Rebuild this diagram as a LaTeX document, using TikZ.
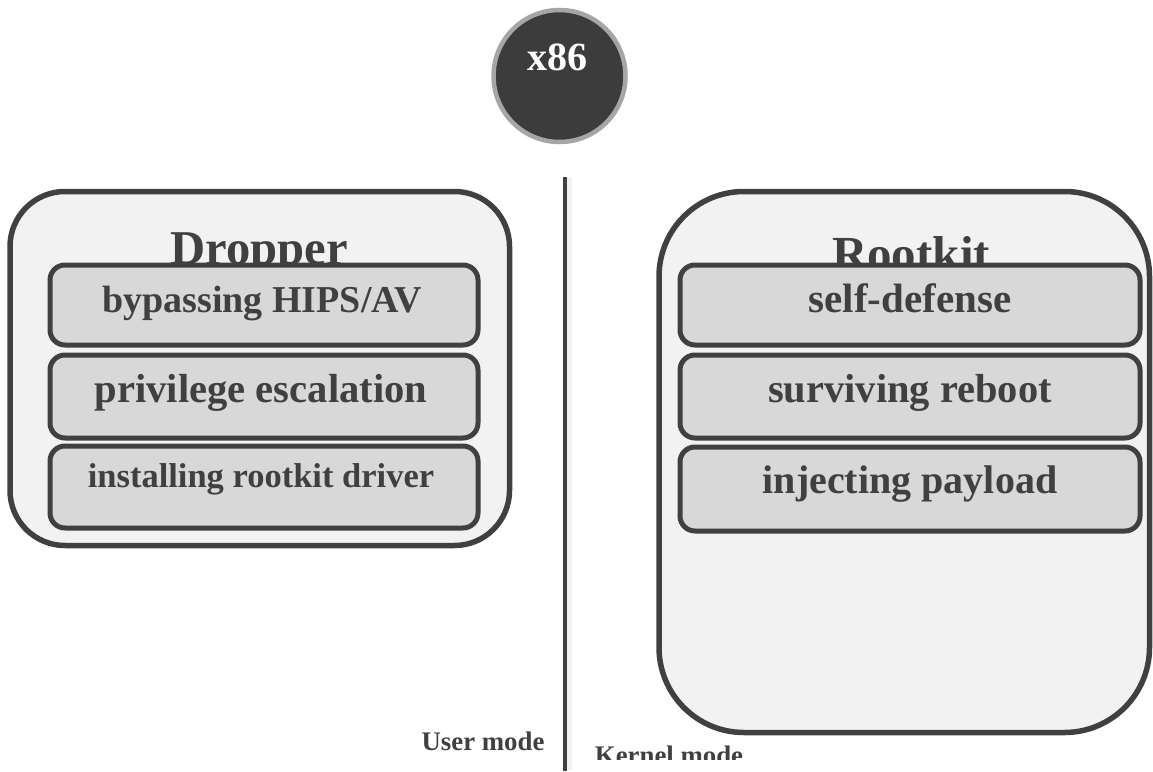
\documentclass[tikz,border=0pt]{standalone}
\usepackage{fontspec}
\setmainfont{Liberation Serif}
\definecolor{ink}{HTML}{404040}
\definecolor{outerfill}{HTML}{F2F2F2}
\definecolor{innerfill}{HTML}{D8D8D8}
\definecolor{ringgray}{HTML}{A6A6A6}
\definecolor{discfill}{HTML}{3C3C3C}
\newcommand{\fsz}[1]{\fontsize{#1}{#1}\selectfont\bfseries}
\tikzset{
  outerbox/.style={draw=ink, line width=5.5pt, fill=outerfill, rounded corners=#1},
  innerbox/.style={draw=ink, line width=5pt, fill=innerfill, rounded corners=15pt},
  lbl/.style={text=ink, inner sep=0pt, anchor=base},
}
\begin{document}
\begin{tikzpicture}[x=1pt,y=-1pt]
\useasboundingbox (0,0) rectangle (1153,771);
% x86 disc
\node[circle, draw=ringgray, line width=4.5pt, fill=discfill, minimum size=132pt, inner sep=0pt] (cpu) at (559.5,76) {};
\node[lbl, text=white] (cputxt) at (557.5,70) {\fsz{40}x86};
% divider
\coordinate (divtop) at (565,177);
\coordinate (divbot) at (565,771);
\draw[black!5, line width=6pt] ([xshift=3.5pt]divtop) -- ([xshift=3.5pt]divbot);
\draw[ink, line width=4.5pt] (divtop) -- (divbot);
% Dropper
\draw[outerbox=55pt] (10,191.5) rectangle (509.5,545.5);
\node[lbl] (droptitle) at (259,264) {\fsz{48.6}Dropper};
\node[innerbox, minimum width=428pt, minimum height=80pt] (d1) at (264,305) {};
\node[innerbox, minimum width=428pt, minimum height=83pt] (d2) at (264,396.5) {};
\node[innerbox, minimum width=428pt, minimum height=82pt] (d3) at (264,487) {};
\node[lbl] (d1t) at (262,312) {\fsz{38}bypassing HIPS/AV};
\node[lbl] (d2t) at (261,402) {\fsz{40.6}privilege escalation};
\node[lbl] (d3t) at (261,487) {\fsz{34.5}installing rootkit driver};
% Rootkit
\draw[outerbox=85pt] (659,191.5) rectangle (1149.5,732.5);
\node[lbl] (roottitle) at (911,270) {\fsz{49}Rootkit};
\node[innerbox, minimum width=460pt, minimum height=80pt] (r1) at (910,305) {};
\node[innerbox, minimum width=460pt, minimum height=83pt] (r2) at (910,396.5) {};
\node[innerbox, minimum width=460pt, minimum height=84pt] (r3) at (910,489) {};
\node[lbl] (r1t) at (910,312) {\fsz{41}self-defense};
\node[lbl] (r2t) at (910,402) {\fsz{40.5}surviving reboot};
\node[lbl] (r3t) at (910,493) {\fsz{40}injecting payload};
% mode labels
\node[lbl] (user) at (483,750) {\fsz{26.8}User mode};
\begin{scope}
\clip (570,700) rectangle (800,759);
\node[lbl] (kernel) at (669,764) {\fsz{26.8}Kernel mode};
\end{scope}
\end{tikzpicture}
\end{document}
